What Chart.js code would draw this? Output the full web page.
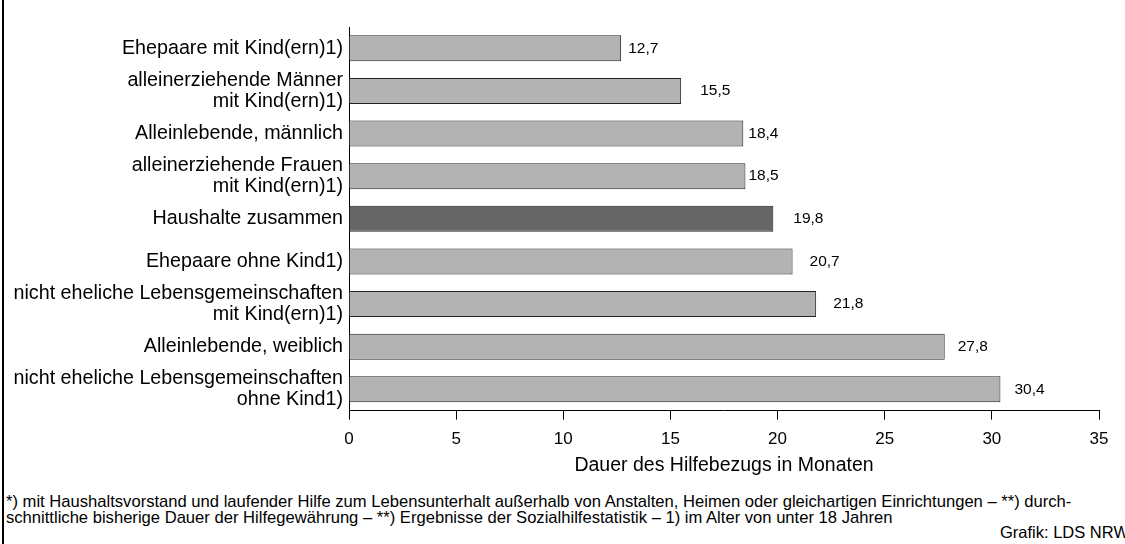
<!DOCTYPE html>
<html lang="de">
<head>
<meta charset="utf-8">
<title>Dauer des Hilfebezugs</title>
<script src="https://cdn.jsdelivr.net/npm/chart.js@4/dist/chart.umd.min.js"></script>
<style>
  body { margin: 0; background: #fff; }
  #wrap { position: relative; width: 1125px; height: 544px; overflow: hidden; background: #fff;
          font-family: "Liberation Sans", Arial, sans-serif; color: #000; }
  #frame { position: absolute; left: 2px; top: 0; width: 2px; height: 544px; background: #000; }
  #chartBox { position: absolute; left: 0; top: 0; width: 1125px; height: 483px; }
  .note { position: absolute; left: 6px; font-size: 16.6px; line-height: 17px; white-space: nowrap; }
  #credit { position: absolute; left: 1000px; top: 523px; font-size: 16.5px; white-space: nowrap; }
</style>
</head>
<body>
<div id="wrap">
  <div id="chartBox"><canvas id="dauerChart"></canvas></div>
  <div id="frame"></div>
  <div class="note" style="top:493px">*) mit Haushaltsvorstand und laufender Hilfe zum Lebensunterhalt außerhalb von Anstalten, Heimen oder gleichartigen Einrichtungen – **) durch-</div>
  <div class="note" style="top:509px">schnittliche bisherige Dauer der Hilfegewährung – **) Ergebnisse der Sozialhilfestatistik – 1) im Alter von unter 18 Jahren</div>
  <div id="credit">Grafik: LDS NRW</div>
</div>
<script>
// data (months)
const categories = [
  "Ehepaare mit Kind(ern)1)",
  "alleinerziehende Männer\nmit Kind(ern)1)",
  "Alleinlebende, männlich",
  "alleinerziehende Frauen\nmit Kind(ern)1)",
  "Haushalte zusammen",
  "Ehepaare ohne Kind1)",
  "nicht eheliche Lebensgemeinschaften\nmit Kind(ern)1)",
  "Alleinlebende, weiblich",
  "nicht eheliche Lebensgemeinschaften\nohne Kind1)"
];
const dauer = [12.7, 15.5, 18.4, 18.5, 19.8, 20.7, 21.8, 27.8, 30.4];
const xTicks = [0, 5, 10, 15, 20, 25, 30, 35];

// styling only
const labelGap = [7, 19, 5, 3, 20, 17, 17, 13, 14];
const FONT = "'Liberation Sans', Arial, sans-serif";

const barColors = categories.map(c => c === "Haushalte zusammen" ? "#666666" : "#b3b3b3");

// value labels to the right of each bar
const valueLabels = {
  id: "valueLabels",
  afterDatasetsDraw(chart) {
    const ctx = chart.ctx;
    const meta = chart.getDatasetMeta(0);
    ctx.save();
    ctx.font = "15.5px " + FONT;
    ctx.fillStyle = "#000";
    ctx.textBaseline = "middle";
    ctx.textAlign = "left";
    meta.data.forEach((bar, i) => {
      const txt = dauer[i].toFixed(1).replace(".", ",");
      ctx.fillText(txt, bar.x + labelGap[i], bar.y);
    });
    ctx.restore();
  }
};

const chart = new Chart(document.getElementById("dauerChart"), {
  type: "bar",
  data: {
    labels: categories.map(c => c.split("\n")),
    datasets: [{
      data: dauer,
      backgroundColor: barColors,
      borderColor: "#222",
      borderWidth: 1,
      borderSkipped: "start",
      barPercentage: 0.61,
      categoryPercentage: 1
    }]
  },
  options: {
    indexAxis: "y",
    responsive: true,
    maintainAspectRatio: false,
    animation: false,
    layout: { padding: { top: 25, right: 26, left: 0, bottom: 0 } },
    plugins: {
      legend: { display: false },
      tooltip: { enabled: false }
    },
    scales: {
      y: {
        grid: { display: false, drawTicks: false },
        border: { display: true, color: "#000", width: 1 },
        ticks: {
          autoSkip: false,
          color: "#000",
          padding: 6,
          font: { family: FONT, size: 19.7, lineHeight: "21px" }
        },
        afterFit(scale) { scale.width = 349; }
      },
      x: {
        min: 0,
        max: 35,
        afterBuildTicks(scale) { scale.ticks = xTicks.map(v => ({ value: v })); },
        grid: { display: true, drawOnChartArea: false, drawTicks: true, tickLength: 9, color: "#000" },
        border: { display: true, color: "#000", width: 1 },
        ticks: {
          color: "#000",
          padding: 11,
          font: { family: FONT, size: 17, lineHeight: 1 }
        },
        title: {
          display: true,
          text: "Dauer des Hilfebezugs in Monaten",
          color: "#000",
          font: { family: FONT, size: 19.5 },
          padding: { top: -5, bottom: 6 }
        }
      }
    }
  },
  plugins: [valueLabels]
});
</script>
</body>
</html>
